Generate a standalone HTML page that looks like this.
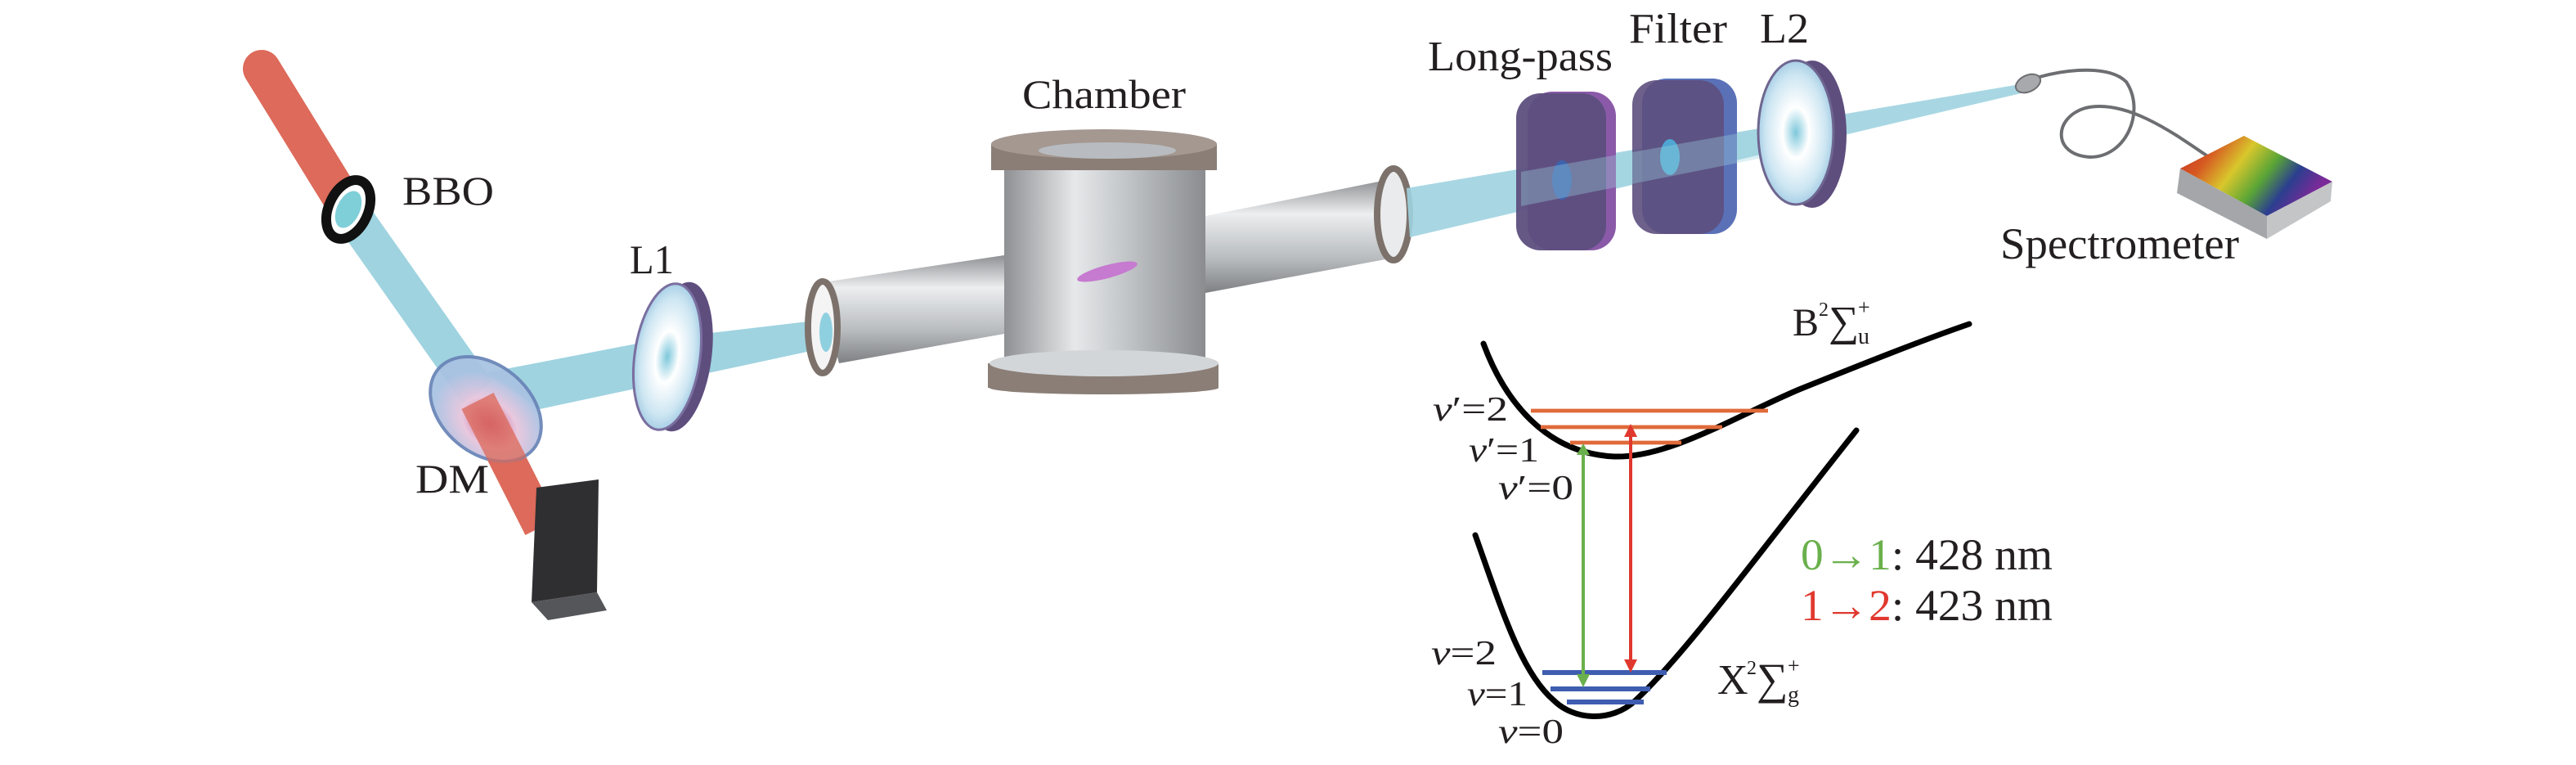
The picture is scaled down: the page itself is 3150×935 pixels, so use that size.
<!DOCTYPE html>
<html><head><meta charset="utf-8"><style>
html,body{margin:0;padding:0;background:#fff;}
svg{display:block;}
svg text{font-family:"Liberation Serif","Times New Roman",Times,"DejaVu Serif",serif;}
</style></head><body>
<svg width="3150" height="935" viewBox="0 0 1575 467.5" xmlns="http://www.w3.org/2000/svg">
<defs>
<linearGradient id="cyl" x1="0" y1="0" x2="1" y2="0">
<stop offset="0" stop-color="#8e9093"/><stop offset="0.35" stop-color="#e6e8ea"/><stop offset="0.6" stop-color="#c3c6c9"/><stop offset="1" stop-color="#8a8c8f"/></linearGradient>
<linearGradient id="tube" x1="0" y1="0" x2="0" y2="1">
<stop offset="0" stop-color="#8e9093"/><stop offset="0.3" stop-color="#eceef0"/><stop offset="0.7" stop-color="#b8bbbe"/><stop offset="1" stop-color="#7e8083"/></linearGradient>
<radialGradient id="lens"><stop offset="0" stop-color="#7ec8dc"/><stop offset="0.35" stop-color="#fff"/><stop offset="0.8" stop-color="#cde6f2"/><stop offset="1" stop-color="#a9cfe6"/></radialGradient>
<radialGradient id="dm" cx="0.6" cy="0.6"><stop offset="0" stop-color="#c0508a"/><stop offset="0.5" stop-color="#e8c6dd"/><stop offset="1" stop-color="#a9c3e3"/></radialGradient>
<linearGradient id="rain" x1="0" y1="0" x2="1" y2="0.4">
<stop offset="0" stop-color="#c62a26"/><stop offset="0.25" stop-color="#d65a22"/><stop offset="0.45" stop-color="#d9c72c"/><stop offset="0.65" stop-color="#5aa536"/><stop offset="0.82" stop-color="#2b3f8f"/><stop offset="1" stop-color="#7a2a98"/></linearGradient>
</defs>
<g fill="#231f20">
<!-- beams left -->
<line x1="160" y1="42" x2="213" y2="128" stroke="#dd6a5a" stroke-width="23" stroke-linecap="round"/>
<line x1="213" y1="128" x2="292" y2="240" stroke="#9fd3e0" stroke-width="23"/>
<polygon points="296,228 405,207 498,196 498,214 405,234 330,250" fill="#9fd3e0"/>
<line x1="292" y1="245" x2="331" y2="322" stroke="#dd6a5a" stroke-width="22"/>
<!-- BBO -->
<ellipse cx="213" cy="128" rx="12" ry="19" transform="rotate(25 213 128)" fill="#fff" stroke="#111" stroke-width="6"/>
<ellipse cx="213" cy="128" rx="7" ry="12" transform="rotate(25 213 128)" fill="#7fcfd8"/>
<text x="246" y="125" font-size="25" textLength="56" lengthAdjust="spacingAndGlyphs">BBO</text>
<!-- DM -->
<ellipse cx="297" cy="250" rx="38" ry="27" transform="rotate(40 297 250)" fill="url(#dm)" stroke="#6b86b8" stroke-width="2" opacity="0.95"/>
<line x1="292" y1="245" x2="312" y2="284" stroke="#dd6a5a" stroke-width="22" opacity="0.75"/>
<text x="254" y="301" font-size="25" textLength="45" lengthAdjust="spacingAndGlyphs">DM</text>
<!-- beam dump -->
<polygon points="328,298 366,293 365,362 325,368" fill="#2f2f31"/>
<polygon points="325,368 365,362 371,373 335,379" fill="#55565a"/>
<!-- L1 -->
<ellipse cx="416" cy="218" rx="19" ry="46" transform="rotate(8 416 218)" fill="#5e4e7e"/>
<ellipse cx="408" cy="218" rx="20" ry="45" transform="rotate(8 408 218)" fill="url(#lens)" stroke="#7a6fa0" stroke-width="1.5"/>
<text x="385" y="167" font-size="25" textLength="27" lengthAdjust="spacingAndGlyphs">L1</text>
<!-- left tube -->
<polygon points="500,173 614,156 614,204 513,222" fill="url(#tube)"/>
<ellipse cx="503" cy="200" rx="9" ry="28" fill="#f4f4f4" stroke="#7c726b" stroke-width="4"/>
<ellipse cx="505" cy="203" rx="4" ry="12" fill="#8fd0e0"/>
<!-- right tube -->
<polygon points="737,132 848,110 855,157 737,179" fill="url(#tube)"/>
<ellipse cx="852" cy="131" rx="10" ry="28" fill="#e9ebec" stroke="#7c726b" stroke-width="4"/>
<!-- chamber -->
<rect x="614" y="98" width="123" height="124" fill="url(#cyl)"/>
<rect x="606" y="88" width="138" height="16" fill="#8a7e77"/>
<ellipse cx="675" cy="88" rx="69" ry="9" fill="#a49891"/>
<ellipse cx="677" cy="92" rx="42" ry="5" fill="#b8bcc0"/>
<rect x="604" y="222" width="141" height="15" fill="#8a7e77"/>
<ellipse cx="675" cy="222" rx="70" ry="8" fill="#d3d6d9"/>
<ellipse cx="675" cy="237" rx="70" ry="4" fill="#8a7e77"/>
<ellipse cx="677" cy="166" rx="19" ry="4" transform="rotate(-15 677 166)" fill="#c67ad0"/>
<text x="625" y="66" font-size="25" textLength="100" lengthAdjust="spacingAndGlyphs">Chamber</text>
<!-- output beam -->
<polygon points="860,115 1238,51 1240,56 862,145" fill="#9fd3e0" opacity="0.9"/>
<!-- long-pass -->
<rect x="934" y="56" width="54" height="97" rx="15" fill="#8a5aa8"/>
<rect x="927" y="57" width="55" height="96" rx="15" fill="#5d4f7e" opacity="0.95"/>
<ellipse cx="955" cy="110" rx="6" ry="12" fill="#3d63b0"/>
<!-- filter -->
<rect x="1004" y="48" width="58" height="95" rx="15" fill="#5a71b8"/>
<rect x="998" y="49" width="56" height="94" rx="15" fill="#5d4f7e" opacity="0.9"/>
<ellipse cx="1021" cy="96" rx="6" ry="11" fill="#4fa6d2"/>
<polygon points="930,105 1100,75 1100,92 930,126" fill="#9fd3e0" opacity="0.35"/>
<!-- L2 -->
<ellipse cx="1108" cy="82" rx="21" ry="45" fill="#5e4e7e"/>
<ellipse cx="1098" cy="81" rx="23" ry="44" fill="url(#lens)" stroke="#6e6690" stroke-width="1.5"/>
<text x="873" y="43" font-size="26" textLength="113" lengthAdjust="spacingAndGlyphs">Long-pass</text>
<text x="996" y="26" font-size="26" textLength="60" lengthAdjust="spacingAndGlyphs">Filter</text>
<text x="1076" y="26" font-size="26" textLength="30" lengthAdjust="spacingAndGlyphs">L2</text>
<!-- fiber -->
<ellipse cx="1240" cy="51" rx="8" ry="5" transform="rotate(-25 1240 51)" fill="#a7a9ac" stroke="#6d6e71" stroke-width="1"/>
<path d="M1247,47 C1265,42 1290,40 1300,50 C1312,68 1300,96 1278,96 C1255,95 1255,72 1275,66 C1300,60 1330,82 1352,97" fill="none" stroke="#6d6e71" stroke-width="2"/>
<!-- spectrometer -->
<polygon points="1333,103 1372,83 1426,111 1386,132" fill="url(#rain)"/>
<polygon points="1333,103 1386,132 1386,146 1331,118" fill="#a4a6a9"/>
<polygon points="1386,132 1426,111 1425,123 1386,146" fill="#c3c5c7"/>
<text x="1223" y="158" font-size="27" textLength="146" lengthAdjust="spacingAndGlyphs">Spectrometer</text>

<!-- energy diagram -->
<g fill="none" stroke="#000" stroke-width="3.5" stroke-linecap="round">
<path d="M907,210 C920,245 945,277 987,279 C1020,280 1060,255 1100,238 C1140,222 1175,208 1204,198"/>
<path d="M902,327 C918,372 930,411 950,428 C962,440 985,442 1000,428 C1030,400 1070,345 1135,263"/>
</g>
<g stroke="#e06a3a" stroke-width="2.4">
<line x1="936" y1="251" x2="1081" y2="251"/>
<line x1="942" y1="261" x2="1053" y2="261"/>
<line x1="960" y1="270.5" x2="1028" y2="270.5"/>
</g>
<g stroke="#3f5db0" stroke-width="3">
<line x1="943" y1="411" x2="1019" y2="411"/>
<line x1="948" y1="421" x2="1009" y2="421"/>
<line x1="958" y1="429" x2="1005" y2="429"/>
</g>
<line x1="968" y1="274" x2="968" y2="418" stroke="#6ab04c" stroke-width="2"/>
<polygon points="964,278 972,278 968,271" fill="#6ab04c"/>
<polygon points="964,412 972,412 968,420" fill="#6ab04c"/>
<line x1="997" y1="262" x2="997" y2="409" stroke="#e0382e" stroke-width="2"/>
<polygon points="993,267 1001,267 997,259" fill="#e0382e"/>
<polygon points="993,403 1001,403 997,411" fill="#e0382e"/>
<g font-size="21">
<text x="876" y="257" textLength="46" lengthAdjust="spacingAndGlyphs"><tspan font-style="italic">v</tspan>′=2</text>
<text x="898" y="282" textLength="43" lengthAdjust="spacingAndGlyphs"><tspan font-style="italic">v</tspan>′=1</text>
<text x="916" y="305" textLength="46" lengthAdjust="spacingAndGlyphs"><tspan font-style="italic">v</tspan>′=0</text>
<text x="875" y="406" textLength="40" lengthAdjust="spacingAndGlyphs"><tspan font-style="italic">v</tspan>=2</text>
<text x="897" y="431" textLength="37" lengthAdjust="spacingAndGlyphs"><tspan font-style="italic">v</tspan>=1</text>
<text x="916" y="454" textLength="40" lengthAdjust="spacingAndGlyphs"><tspan font-style="italic">v</tspan>=0</text>
</g>
<text x="1096" y="205" font-size="24">B</text>
<text x="1050" y="424" font-size="26">X</text>
<g font-size="27">
<text x="1101" y="348" textLength="154" lengthAdjust="spacingAndGlyphs"><tspan fill="#6ab04c">0→1</tspan>: 428 nm</text>
<text x="1101" y="379" textLength="154" lengthAdjust="spacingAndGlyphs"><tspan fill="#e0382e">1→2</tspan>: 423 nm</text>
</g>
<text x="1112" y="193" font-size="12">2</text>
<text x="1118" y="205" font-size="26">∑</text>
<text x="1136" y="192" font-size="13">+</text>
<text x="1136" y="210" font-size="14">u</text>
<text x="1068" y="412" font-size="12">2</text>
<text x="1074" y="424" font-size="27">∑</text>
<text x="1093" y="411" font-size="13">+</text>
<text x="1093" y="429" font-size="14">g</text>
</g>
</svg>
</body></html>
